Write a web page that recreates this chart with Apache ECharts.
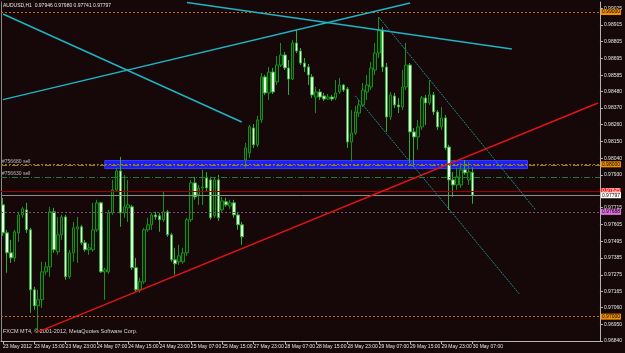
<!DOCTYPE html>
<html>
<head>
<meta charset="utf-8">
<script src="https://cdn.jsdelivr.net/npm/echarts@6/dist/echarts.min.js"></script>
<style>
  html, body { margin: 0; padding: 0; background: #160808; }
  #chart { width: 625px; height: 353px; }
</style>
</head>
<body>
<div id="chart"></div>
<script>
// AUDUSD H1 bars, 23 May 2012 07:00 -> 30 May 07:00
var openPx = [
  0.97734, 0.97550, 0.97419, 0.97386, 0.97550, 0.97668, 0.97701, 0.97570, 0.97176, 0.97071,
  0.97111, 0.97294, 0.97327, 0.97688, 0.97426, 0.97537, 0.97655, 0.97262, 0.97419, 0.97576,
  0.97590, 0.97485, 0.97439, 0.97439, 0.97570, 0.97747, 0.97294, 0.97294, 0.97681, 0.97832, 0.97957,
  0.97681, 0.97714, 0.97721, 0.97321, 0.97176, 0.97229, 0.97570, 0.97603, 0.97668, 0.97662,
  0.97636, 0.97688, 0.97537, 0.97373, 0.97360, 0.97360, 0.97419, 0.97636, 0.97878, 0.97800,
  0.97845, 0.97911, 0.97898, 0.97662, 0.97898, 0.97701, 0.97754, 0.97727, 0.97747, 0.97668,
  0.97603, 0.98029, 0.98075, 0.98239, 0.98128, 0.98292, 0.98574, 0.98469, 0.98606, 0.98541,
  0.98652, 0.98718, 0.98633, 0.98560, 0.98797, 0.98744, 0.98665, 0.98639, 0.98574, 0.98442,
  0.98475, 0.98449, 0.98429, 0.98442, 0.98436, 0.98475, 0.98521, 0.98495, 0.98147, 0.98206, 0.98337,
  0.98390, 0.98475, 0.98508, 0.98620, 0.98731, 0.98882, 0.98639, 0.98311, 0.98449, 0.98390,
  0.98377, 0.98508, 0.98652, 0.98213, 0.98180, 0.98246, 0.98436, 0.98403, 0.98456, 0.98344,
  0.98246, 0.98305, 0.98114, 0.97898, 0.97865, 0.97865, 0.97964, 0.97898, 0.97946
]
var closePx = [
  0.97550, 0.97419, 0.97386, 0.97557, 0.97668, 0.97708, 0.97570, 0.97176, 0.97071, 0.97111,
  0.97294, 0.97327, 0.97688, 0.97439, 0.97537, 0.97655, 0.97262, 0.97419, 0.97583, 0.97590,
  0.97485, 0.97439, 0.97452, 0.97570, 0.97747, 0.97294, 0.97307, 0.97681, 0.97832, 0.97957, 0.97681,
  0.97721, 0.97734, 0.97321, 0.97176, 0.97229, 0.97570, 0.97603, 0.97668, 0.97655, 0.97636,
  0.97688, 0.97537, 0.97373, 0.97347, 0.97399, 0.97419, 0.97636, 0.97878, 0.97786, 0.97845,
  0.97852, 0.97845, 0.97649, 0.97898, 0.97649, 0.97760, 0.97734, 0.97747, 0.97668, 0.97603,
  0.97524, 0.98108, 0.98246, 0.98128, 0.98292, 0.98574, 0.98469, 0.98606, 0.98475, 0.98652,
  0.98718, 0.98633, 0.98560, 0.98797, 0.98744, 0.98665, 0.98639, 0.98587, 0.98456, 0.98475,
  0.98442, 0.98429, 0.98442, 0.98429, 0.98469, 0.98521, 0.98488, 0.98147, 0.98206, 0.98344, 0.98390,
  0.98488, 0.98521, 0.98633, 0.98731, 0.98882, 0.98639, 0.98311, 0.98456, 0.98390, 0.98377,
  0.98508, 0.98652, 0.98213, 0.98180, 0.98246, 0.98436, 0.98403, 0.98456, 0.98344, 0.98246,
  0.98305, 0.98108, 0.97898, 0.97865, 0.97918, 0.97964, 0.97944, 0.97950, 0.97797
]
var lowPx = [
  0.97531, 0.97288, 0.97353, 0.97360, 0.97491, 0.97649, 0.97550, 0.97025, 0.97045, 0.96894,
  0.97058, 0.97275, 0.97262, 0.97419, 0.97406, 0.97504, 0.97242, 0.97248, 0.97360, 0.97353,
  0.97472, 0.97426, 0.97406, 0.97426, 0.97557, 0.97288, 0.97111, 0.97281, 0.97668, 0.97819, 0.97590,
  0.97649, 0.97622, 0.97307, 0.97163, 0.97157, 0.97216, 0.97557, 0.97570, 0.97636, 0.97557,
  0.97622, 0.97524, 0.97360, 0.97275, 0.97340, 0.97347, 0.97399, 0.97622, 0.97767, 0.97734,
  0.97734, 0.97819, 0.97636, 0.97649, 0.97629, 0.97688, 0.97721, 0.97708, 0.97649, 0.97570,
  0.97472, 0.97977, 0.98042, 0.98108, 0.98114, 0.98272, 0.98456, 0.98423, 0.98462, 0.98521,
  0.98639, 0.98620, 0.98456, 0.98554, 0.98731, 0.98652, 0.98606, 0.98521, 0.98436, 0.98337,
  0.98423, 0.98416, 0.98423, 0.98416, 0.98423, 0.98462, 0.98475, 0.98108, 0.98016, 0.98193, 0.98311,
  0.98377, 0.98423, 0.98488, 0.98587, 0.98698, 0.98606, 0.98213, 0.98292, 0.98370, 0.98337,
  0.98357, 0.98488, 0.98009, 0.97983, 0.98095, 0.98226, 0.98259, 0.98390, 0.98324, 0.98226,
  0.98226, 0.98095, 0.97701, 0.97786, 0.97832, 0.97845, 0.97931, 0.97865, 0.97741
]
var highPx = [
  0.97780, 0.97570, 0.97504, 0.97570, 0.97688, 0.97721, 0.97747, 0.97583, 0.97196, 0.97176,
  0.97360, 0.97360, 0.97721, 0.97714, 0.97655, 0.97668, 0.97668, 0.97439, 0.97622, 0.97655,
  0.97603, 0.97504, 0.97478, 0.97747, 0.97767, 0.97754, 0.97321, 0.97701, 0.97898, 0.97977, 0.98049,
  0.97931, 0.97898, 0.97734, 0.97386, 0.97255, 0.97583, 0.97649, 0.97681, 0.97688, 0.97681,
  0.97819, 0.97701, 0.97550, 0.97452, 0.97472, 0.97452, 0.97649, 0.97898, 0.97918, 0.97865,
  0.97964, 0.97950, 0.97918, 0.97911, 0.97931, 0.97786, 0.97780, 0.97767, 0.97767, 0.97688,
  0.97622, 0.98141, 0.98259, 0.98265, 0.98318, 0.98600, 0.98587, 0.98639, 0.98633, 0.98711,
  0.98797, 0.98738, 0.98685, 0.98816, 0.98882, 0.98764, 0.98698, 0.98659, 0.98593, 0.98508,
  0.98495, 0.98469, 0.98462, 0.98456, 0.98554, 0.98567, 0.98528, 0.98508, 0.98357, 0.98383, 0.98423,
  0.98534, 0.98587, 0.98672, 0.98797, 0.98967, 0.98902, 0.98665, 0.98475, 0.98469, 0.98436,
  0.98620, 0.98797, 0.98665, 0.98239, 0.98292, 0.98449, 0.98456, 0.98554, 0.98475, 0.98357,
  0.98377, 0.98324, 0.98128, 0.97950, 0.97977, 0.98009, 0.98029, 0.98016, 0.97980
]

// time scale labels, one every 8 bars
var timeLabels = [
  '23 May 2012', '23 May 15:00', '23 May 23:00', '24 May 07:00', '24 May 15:00',
  '24 May 23:00', '25 May 07:00', '25 May 15:00', '27 May 23:00', '28 May 07:00',
  '28 May 15:00', '28 May 23:00', '29 May 07:00', '29 May 15:00', '29 May 23:00', '30 May 07:00'
]
// price scale labels
var priceTicks = [
  0.99025, 0.98915, 0.98805, 0.98695, 0.98585, 0.98480, 0.98370, 0.98260, 0.98150, 0.98040,
  0.97930, 0.97715, 0.97605, 0.97495, 0.97385, 0.97275, 0.97165, 0.97060, 0.96950, 0.96840
]

// horizontal levels
var roundLevels = [0.99000, 0.98000, 0.97000]
var sellOrders = [0.97995, 0.97916]
var sellNames = ['#756680 sell', '#756630 sell']
var redLevel = 0.97825
var bidPrice = 0.97797
var pinkLevel = 0.97688

// drawn objects: [barIndex, price] pairs
var cyanUp = [[0, 0.98425], [104, 0.99060]]
var cyanDown1 = [[0, 0.98987], [61, 0.98278]]
var cyanDown2 = [[47, 0.99062], [130, 0.98758]]
var redTrend = [[9, 0.96900], [152, 0.98403]]
var channelA = [[96, 0.98967], [136, 0.97703]]
var channelB = [[90, 0.98450], [132, 0.97146]]
var blueBox = [[26, 0.98025], [134, 0.97972]]

var slotCount = 153  // bars that fit on screen, incl. the empty right shift
var slots = []
for (var i = 0; i < slotCount; i++) slots.push(String(i))

var candles = openPx.map(function (o, i) {
  return [o, closePx[i], lowPx[i], highPx[i]]
})

var FONT = 'Liberation Sans'
var showTime = function (idx) { return idx % 8 === 0 && idx / 8 < timeLabels.length }

function trend(pts, color, width, type) {
  return [
    { coord: pts[0], lineStyle: { color: color, width: width, type: type } },
    { coord: pts[1] }
  ]
}

function axisBox(value, bg, fg, lineColor, lineType) {
  return {
    yAxis: value,
    lineStyle: { color: lineColor, width: 1, type: lineType },
    label: {
      show: true, position: 'end', distance: 1,
      formatter: value.toFixed(5),
      backgroundColor: bg, color: fg,
      fontFamily: FONT, fontSize: 5, padding: [1, 1, 0, 1]
    }
  }
}

var levelLines = []
roundLevels.forEach(function (v) {
  levelLines.push(axisBox(v, '#f29100', '#000', '#c46c14', [2, 2]))
})
sellOrders.forEach(function (v, k) {
  levelLines.push({
    yAxis: v,
    lineStyle: { color: k === 0 ? '#6f8a1e' : '#1f7a3c', width: 1, type: [6, 2, 1, 2] },
    label: {
      show: true, position: 'insideStartTop', distance: 1,
      formatter: sellNames[k], color: '#bdbdbd', fontFamily: FONT, fontSize: 5
    }
  })
})
levelLines.push(axisBox(redLevel, '#ff2020', '#fff', '#a00000', 'solid'))
levelLines.push(axisBox(bidPrice, '#ffffff', '#000', '#8c8c8c', 'solid'))
levelLines.push(axisBox(pinkLevel, '#e070e0', '#000', '#7a4f7a', [2, 2]))

var chart = echarts.init(document.getElementById('chart'))
chart.setOption({
  backgroundColor: '#160808',
  animation: false,
  grid: { left: 0, right: 21, top: 2, bottom: 12 },
  graphic: [
    {
      type: 'text', left: 3, top: 3,
      style: { text: 'AUDUSD,H1  0.97946 0.97980 0.97741 0.97797', fill: '#e6e6e6', font: '5px "Liberation Sans"' }
    },
    {
      type: 'text', left: 3, top: 328,
      style: { text: 'FXCM MT4, \u00a9 2001-2012, MetaQuotes Software Corp.', fill: '#d8d8d8', font: '5.5px "Liberation Sans"' }
    }
  ],
  xAxis: {
    type: 'category',
    data: slots,
    boundaryGap: true,
    axisLine: { lineStyle: { color: '#b4b4b4' } },
    axisTick: { show: true, alignWithLabel: true, length: 3, interval: showTime, lineStyle: { color: '#b4b4b4' } },
    axisLabel: {
      interval: showTime, color: '#e6e6e6', fontFamily: FONT, fontSize: 5,
      align: 'left', margin: 3, hideOverlap: false, showMinLabel: true, showMaxLabel: true,
      formatter: function (v, idx) { return timeLabels[idx / 8] || '' }
    },
    splitLine: { show: false }
  },
  yAxis: [
    {
      type: 'value', position: 'right', min: 0.9684, max: 0.99066, scale: true,
      splitLine: { show: false },
      axisLine: { show: true, lineStyle: { color: '#b4b4b4' } },
      axisTick: { show: true, length: 3, customValues: priceTicks, lineStyle: { color: '#b4b4b4' } },
      axisLabel: {
        color: '#e6e6e6', fontFamily: FONT, fontSize: 5, margin: 4, hideOverlap: false,
        customValues: priceTicks,
        formatter: function (v) { return v.toFixed(5) }
      }
    },
    {
      type: 'value', position: 'left', min: 0.9684, max: 0.99066,
      splitLine: { show: false }, axisTick: { show: false }, axisLabel: { show: false },
      axisLine: { show: true, lineStyle: { color: '#8a8a8a' } }
    }
  ],
  series: [{
    type: 'candlestick',
    data: candles,
    barWidth: 3,
    itemStyle: {
      color: '#0c220c', color0: '#e6ffe6',
      borderColor: '#169216', borderColor0: '#2fae2f', borderWidth: 1
    },
    markArea: {
      silent: true,
      itemStyle: { color: '#1f1ff2', borderColor: '#3a3aff', borderWidth: 1 },
      data: [[{ xAxis: blueBox[0][0], yAxis: blueBox[0][1] }, { xAxis: blueBox[1][0], yAxis: blueBox[1][1] }]]
    },
    markLine: {
      silent: true,
      precision: 5,
      symbol: ['none', 'none'],
      label: { show: false },
      data: levelLines.concat([
        trend(cyanUp, '#1fb3c4', 1.5, 'solid'),
        trend(cyanDown1, '#1fb3c4', 1.5, 'solid'),
        trend(cyanDown2, '#1fb3c4', 1.5, 'solid'),
        trend(redTrend, '#e01414', 1.5, 'solid'),
        trend(channelA, '#1a8c8c', 1, [2, 1]),
        trend(channelB, '#1a8c8c', 1, [2, 1])
      ])
    }
  }]
})
</script>
</body>
</html>
